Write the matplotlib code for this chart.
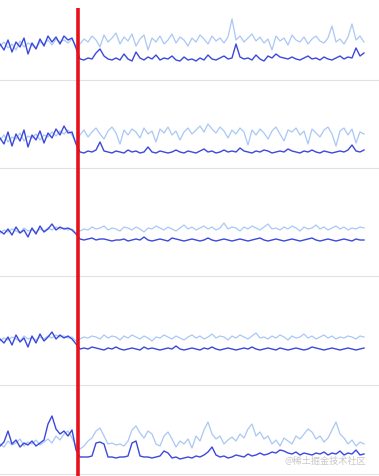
import numpy as np
import matplotlib
matplotlib.use("Agg")
import matplotlib.pyplot as plt

# panel edges in pixels (top, bottom) of the 477 px tall picture
panel_edges = [(0, 81), (81, 169), (169, 277), (277, 386), (386, 475)]
split_x = 78

# heights above the panel floor, sampled every 4 px from x=0 to x=364
dark_1 = [36, 30, 40, 28, 38, 33, 42, 26, 37, 31, 41, 34, 44, 38, 43, 36, 44, 40, 42, 32,
          21, 20, 22, 21, 27, 31, 24, 21, 20, 22, 20, 26, 21, 19, 28, 22, 20, 23, 21, 25,
          20, 22, 21, 24, 20, 19, 23, 20, 21, 19, 22, 20, 25, 21, 20, 22, 24, 21, 22, 36,
          23, 21, 22, 20, 25, 21, 19, 24, 22, 26, 23, 22, 21, 23, 21, 20, 22, 24, 21, 22,
          20, 23, 21, 20, 22, 24, 21, 23, 22, 32, 24, 27]
light_1 = [34, 38, 32, 36, 30, 39, 33, 37, 35, 32, 38, 36, 40, 35, 41, 38, 40, 37, 41, 34,
           36, 41, 38, 44, 40, 33, 45, 38, 42, 47, 36, 43, 39, 46, 34, 41, 45, 30, 42, 38,
           44, 36, 40, 46, 37, 43, 40, 34, 42, 38, 45, 41, 36, 44, 39, 42, 37, 43, 61, 40,
           44, 38, 42, 46, 39, 43, 37, 41, 30, 44, 39, 42, 35, 45, 40, 38, 43, 36, 41, 44,
           39, 37, 42, 54, 38, 41, 36, 43, 56, 40, 44, 38]

dark_2 = [30, 24, 36, 22, 34, 27, 38, 21, 33, 28, 37, 25, 35, 30, 39, 33, 42, 35, 36, 24,
          16, 15, 17, 16, 18, 26, 17, 16, 15, 17, 16, 15, 18, 16, 17, 15, 16, 21, 16, 15,
          17, 16, 15, 16, 18, 16, 15, 17, 16, 15, 17, 19, 16, 17, 15, 16, 18, 16, 17, 16,
          20, 17, 16, 15, 17, 16, 18, 17, 15, 16, 17, 16, 19, 17, 16, 15, 17, 16, 18, 16,
          15, 17, 16, 15, 16, 17, 16, 18, 23, 17, 16, 18]
light_2 = [28, 33, 26, 31, 29, 35, 27, 32, 30, 34, 28, 33, 31, 36, 32, 37, 34, 38, 33, 25,
           33, 38, 31, 36, 40, 34, 29, 37, 41, 35, 24, 38, 33, 39, 36, 30, 40, 34, 37, 26,
           39, 35, 41, 33, 37, 28, 36, 40, 34, 38, 42, 36, 44, 39, 35, 41, 37, 30, 38, 34,
           40, 36, 23, 38, 33, 39, 35, 29, 37, 41, 34, 27, 38, 36, 40, 33, 37, 24, 39, 35,
           31, 38, 41, 34, 22, 37, 40, 33, 39, 25, 36, 34]

dark_3 = [45, 42, 47, 41, 49, 43, 46, 39, 48, 42, 50, 44, 47, 52, 46, 49, 47, 48, 46, 42,
          37, 36, 37, 38, 36, 37, 37, 36, 35, 36, 36, 37, 35, 36, 37, 36, 39, 36, 35, 36,
          37, 36, 35, 38, 37, 36, 35, 36, 37, 36, 35, 36, 38, 36, 35, 36, 37, 36, 35, 36,
          37, 36, 35, 36, 37, 38, 36, 35, 36, 37, 36, 35, 36, 37, 36, 35, 36, 37, 38, 36,
          35, 36, 37, 36, 35, 36, 37, 36, 35, 37, 36, 36]
light_3 = [43, 46, 44, 47, 45, 43, 48, 45, 46, 44, 47, 45, 48, 46, 49, 47, 48, 46, 47, 43,
           45, 47, 46, 49, 47, 48, 50, 46, 48, 47, 45, 49, 48, 46, 49, 47, 44, 48, 47, 50,
           48, 46, 49, 47, 45, 48, 51, 47, 49, 46, 48, 50, 47, 49, 46, 48, 53, 47, 49, 48,
           45, 49, 47, 50, 48, 46, 49, 52, 47, 48, 46, 49, 47, 50, 48, 45, 49, 47, 48, 51,
           47, 49, 46, 48, 50, 47, 49, 46, 48, 47, 49, 48]

dark_4 = [46, 42, 48, 40, 50, 43, 47, 38, 49, 42, 51, 44, 48, 53, 46, 50, 47, 49, 46, 41,
          36, 37, 36, 38, 37, 36, 35, 37, 36, 38, 36, 35, 36, 37, 36, 35, 38, 36, 37, 36,
          35, 36, 37, 36, 39, 36, 35, 36, 37, 36, 35, 37, 36, 38, 36, 35, 36, 37, 36, 35,
          36, 37, 36, 38, 36, 35, 36, 37, 36, 35, 37, 36, 35, 36, 37, 36, 35, 36, 38, 37,
          36, 35, 36, 37, 36, 35, 36, 37, 36, 35, 36, 37]
light_4 = [44, 47, 45, 48, 46, 44, 49, 46, 47, 45, 48, 46, 49, 47, 50, 48, 49, 47, 48, 44,
           46, 48, 47, 49, 48, 46, 50, 47, 49, 48, 45, 49, 47, 50, 48, 46, 49, 47, 44, 48,
           47, 50, 48, 46, 49, 47, 45, 48, 50, 47, 49, 46, 48, 51, 47, 49, 48, 45, 49, 47,
           50, 48, 46, 49, 52, 47, 48, 46, 49, 47, 50, 48, 45, 49, 47, 48, 51, 47, 49, 46,
           48, 50, 47, 49, 46, 48, 47, 49, 48, 46, 49, 48]

dark_5 = [28, 32, 43, 30, 34, 27, 31, 29, 33, 28, 31, 34, 50, 58, 45, 40, 43, 38, 44, 24,
          17, 17, 17, 18, 31, 32, 30, 17, 17, 16, 17, 17, 18, 31, 33, 18, 17, 17, 16, 17,
          18, 23, 21, 16, 17, 15, 16, 17, 16, 18, 17, 19, 22, 27, 19, 17, 18, 16, 17, 19,
          18, 17, 20, 18, 19, 21, 19, 20, 22, 21, 24, 23, 21, 20, 22, 19, 21, 20, 19, 21,
          20, 22, 19, 21, 20, 23, 19, 21, 20, 24, 19, 20]
light_5 = [30, 27, 33, 29, 31, 35, 28, 32, 30, 34, 29, 32, 35, 31, 38, 34, 40, 43, 36, 28,
           25, 28, 33, 36, 43, 46, 38, 30, 31, 29, 30, 28, 33, 44, 48, 41, 36, 43, 40, 30,
           28, 38, 42, 35, 27, 33, 30, 35, 26, 38, 33, 44, 52, 40, 35, 38, 30, 34, 37, 33,
           40, 36, 45, 50, 38, 42, 35, 38, 30, 34, 28, 36, 33, 30, 38, 35, 40, 45, 42, 35,
           38, 32, 36, 44, 52, 40, 36, 30, 34, 28, 32, 30]

dark_series = [dark_1, dark_2, dark_3, dark_4, dark_5]
light_series = [light_1, light_2, light_3, light_4, light_5]

W, H = 379, 477
fig = plt.figure(figsize=(W / 100, H / 100), dpi=100)

for (top, bottom), dark, light in zip(panel_edges, dark_series, light_series):
    ax = fig.add_axes([0, 1 - bottom / H, 1, (bottom - top) / H])
    x_light = np.linspace(0, 364, len(light))
    x_dark = np.linspace(0, 364, len(dark))
    ax.plot(x_light, light, color="#a9c8f4", lw=0.9, solid_joinstyle="round")
    ax.plot(x_dark, dark, color="#3b48dc", lw=1.0, solid_joinstyle="round")
    ax.set_xlim(0, W)
    ax.set_ylim(0, bottom - top)
    for side in ("top", "left", "right"):
        ax.spines[side].set_visible(False)
    ax.spines["bottom"].set_color("#e2e2e2")
    ax.spines["bottom"].set_linewidth(0.8)
    ax.set_xticks([])
    ax.set_yticks([])
    ax.patch.set_alpha(0)

# overlay for the split marker and the watermark
over = fig.add_axes([0, 0, 1, 1])
over.set_xlim(0, W)
over.set_ylim(H, 0)
over.axis("off")
over.vlines(split_x, 9, H, color="#e8101a", lw=2.6)
over.text(366, 461, "@稀土掘金技术社区", ha="right", va="center", fontsize=6.6,
          color="#c8c8c8", family=["Noto Sans CJK SC", "DejaVu Sans"])

fig.savefig("out.png", dpi=100)
